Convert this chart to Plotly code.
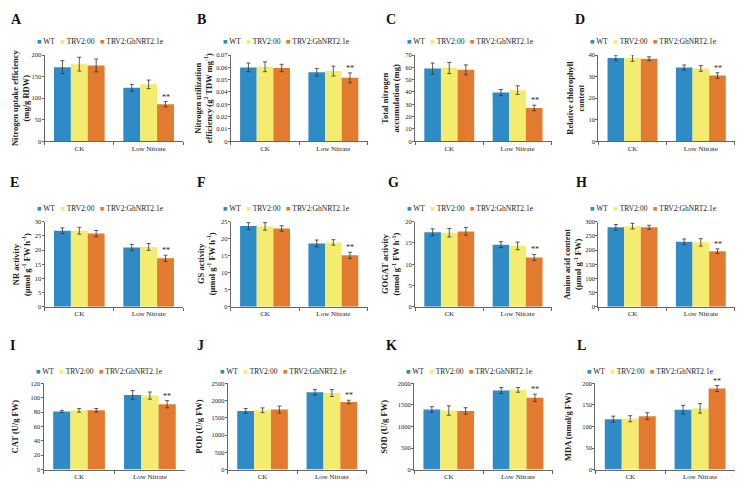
import plotly.graph_objects as go

categories = ["CK", "Low Nitrate"]
series_names = ["WT", "TRV2:00", "TRV2:GhNRT2.1e"]
series_colors = ["#2F8BC6", "#F3EC6E", "#E27B2F"]

panel_letters = ["A", "B", "C", "D", "E", "F", "G", "H", "I", "J", "K", "L"]
y_titles = [
    "Nitrogen uptake efficiency<br>(mg/g RDW)",
    "Nitrogen utilization<br>efficiency (g<sup>2</sup> TDW mg<sup>-1</sup>)",
    "Total nitrogen<br>accumulation (mg)",
    "Relative chlorophyll<br>content",
    "NR activity<br>(μmol g<sup>-1</sup> FW h<sup>-1</sup>)",
    "GS activity<br>(μmol g<sup>-1</sup> FW h<sup>-1</sup>)",
    "GOGAT activity<br>(nmol g<sup>-1</sup> FW h<sup>-1</sup>)",
    "Amino acid content<br>(μmol g<sup>-1</sup> FW)",
    "CAT (U/g FW)",
    "POD (U/g FW)",
    "SOD (U/g FW)",
    "MDA (nmol/g FW)",
]
y_max = [200, 0.07, 70, 40, 30, 25, 20, 300, 120, 2500, 2000, 200]
y_dtick = [50, 0.01, 10, 10, 5, 5, 5, 50, 20, 500, 500, 50]

# values: [WT, TRV2:00, TRV2:GhNRT2.1e] x [CK, Low Nitrate]
uptake_mean = [[172, 124], [179, 132], [176, 86]]
uptake_err = [[15, 8], [16, 10], [15, 6]]
utilization_mean = [[0.0600, 0.0560], [0.0605, 0.0570], [0.0595, 0.0515]]
utilization_err = [[0.0035, 0.0030], [0.0040, 0.0040], [0.0030, 0.0040]]
total_n_mean = [[59, 39.5], [59.5, 41.5], [58, 27]]
total_n_err = [[4.5, 2.5], [4.5, 3.5], [4, 2.3]]
chlorophyll_mean = [[38.7, 34.2], [38.6, 33.8], [38.3, 30.5]]
chlorophyll_err = [[1.3, 1.2], [1.5, 1.3], [0.9, 1.3]]
nr_mean = [[26.8, 20.9], [26.8, 21.1], [25.8, 17.1]]
nr_err = [[1.0, 1.1], [1.2, 1.2], [1.1, 1.1]]
gs_mean = [[23.7, 18.6], [23.6, 18.9], [23.0, 15.1]]
gs_err = [[1.0, 1.0], [1.1, 0.8], [0.8, 0.9]]
gogat_mean = [[17.5, 14.6], [17.4, 14.3], [17.7, 11.6]]
gogat_err = [[0.8, 0.7], [1.0, 0.9], [0.9, 0.7]]
amino_mean = [[280, 229], [284, 227], [280, 196]]
amino_err = [[10, 10], [10, 13], [7, 8]]
cat_mean = [[81, 104], [82.5, 103], [82.5, 91]]
cat_err = [[1.5, 6], [2.5, 5], [2.5, 5]]
pod_mean = [[1700, 2240], [1720, 2220], [1740, 1960]]
pod_err = [[70, 80], [70, 100], [100, 50]]
sod_mean = [[1395, 1835], [1370, 1850], [1360, 1665]]
sod_err = [[65, 70], [110, 55], [75, 85]]
mda_mean = [[117, 139], [118, 142], [124, 188]]
mda_err = [[7, 10], [7, 11], [8, 7]]

panel_means = [uptake_mean, utilization_mean, total_n_mean, chlorophyll_mean, nr_mean, gs_mean,
               gogat_mean, amino_mean, cat_mean, pod_mean, sod_mean, mda_mean]
panel_errs = [uptake_err, utilization_err, total_n_err, chlorophyll_err, nr_err, gs_err,
              gogat_err, amino_err, cat_err, pod_err, sod_err, mda_err]
significance = "**"

# page layout, given in reference-window pixels and mapped into the figure
# (the page body adds an 8px margin around the figure)
OFF = 8
W, H = 743 - 2 * OFF, 493 - 2 * OFF
REF_X0, REF_X1 = 3, 737
REF_Y0, REF_Y1 = 3, 494
SX = W / (REF_X1 - REF_X0)
SY = H / (REF_Y1 - REF_Y0)

col_px = [
    [(40, 180), (228, 366), (414, 552), (599, 737)],
    [(40, 180), (228, 366), (414, 552), (599, 737)],
    [(39, 182), (225, 365), (413, 553), (596, 737)],
]
row_px = [(48, 138), (222, 311), (391, 481)]
legend_y = [34, 208, 379]
letter_x = [4, 192, 383, 573, 3, 192, 385, 574, 3, 192, 383, 575]
letter_y = [11, 181, 351]
title_dx = [-25, -28, -25, -23, -24, -25, -25, -26, -28, -29, -30, -27]


def px(xp):
    return min(max((xp - REF_X0) * SX / W, 0), 1)


def py(yp):
    return min(max(1 - (yp - REF_Y0) * SY / H, 0), 1)


SERIF = "Liberation Serif, Times New Roman, serif"
TXT = "#222222"

fig = go.Figure()
layout = dict(
    width=W, height=H, margin=dict(l=0, r=0, t=0, b=0),
    paper_bgcolor="white", plot_bgcolor="white",
    barmode="group", bargap=0.27, bargroupgap=0,
    showlegend=False,
    font=dict(family=SERIF, color=TXT, size=7),
)
annotations = []

for i in range(12):
    r, c = divmod(i, 4)
    k = "" if i == 0 else str(i + 1)
    x0, x1 = col_px[r][c]
    t0, b0 = row_px[r]
    for s in range(3):
        fig.add_trace(go.Bar(
            x=categories, y=panel_means[i][s], name=series_names[s],
            marker=dict(color=series_colors[s], line=dict(width=0)),
            error_y=dict(type="data", array=panel_errs[i][s], color="#333333",
                         thickness=0.8, width=2),
            xaxis="x" + k, yaxis="y" + k, showlegend=False,
        ))
    layout["xaxis" + k] = dict(
        domain=[px(x0), px(x1)], anchor="y" + k, showline=True, linecolor="#666666",
        linewidth=1, ticks="outside", tickson="boundaries", ticklen=3, tickcolor="#666666",
        showgrid=False, tickfont=dict(family=SERIF, size=7, color=TXT), fixedrange=True,
    )
    layout["yaxis" + k] = dict(
        domain=[py(b0), py(t0)], anchor="x" + k, range=[0, y_max[i]],
        dtick=y_dtick[i], showline=True, linecolor="#666666", linewidth=1,
        ticks="outside", ticklen=2, tickcolor="#666666", showgrid=False, zeroline=False,
        ticklabelstandoff=-1,
        tickfont=dict(family=SERIF, size=6.5, color=TXT),
    )
    # y-axis title
    annotations.append(dict(
        x=px(x0 + title_dx[i]), y=py((t0 + b0) / 2), xref="paper", yref="paper",
        xanchor="center", yanchor="middle", textangle=-90, text=y_titles[i],
        showarrow=False, font=dict(family=SERIF, size=8.5, color=TXT, weight="bold"),
    ))
    # significance mark above the TRV2:GhNRT2.1e bar under Low Nitrate
    annotations.append(dict(
        x=categories[1], y=panel_means[i][2][1] + panel_errs[i][2][1],
        xref="x" + k, yref="y" + k, text=significance, showarrow=False,
        xshift=17, yanchor="bottom", yshift=-2,
        font=dict(family=SERIF, size=8, color=TXT),
    ))
    # panel legend
    legend_text = "   ".join(
        f"<span style='color:{series_colors[s]}'>■</span> {series_names[s]}" for s in range(3)
    )
    annotations.append(dict(
        x=px(x0 - 10), y=py(legend_y[r]), xref="paper", yref="paper",
        xanchor="left", yanchor="middle", text=legend_text, showarrow=False,
        font=dict(family=SERIF, size=7.5, color=TXT),
    ))
    # panel letter
    annotations.append(dict(
        x=px(letter_x[i]), y=py(letter_y[r]), xref="paper", yref="paper",
        xanchor="left", yanchor="middle", text=panel_letters[i], showarrow=False,
        font=dict(family=SERIF, size=14, color="#111111", weight="bold"),
    ))

layout["annotations"] = annotations
fig.update_layout(**layout)
fig.write_html("out.html")
